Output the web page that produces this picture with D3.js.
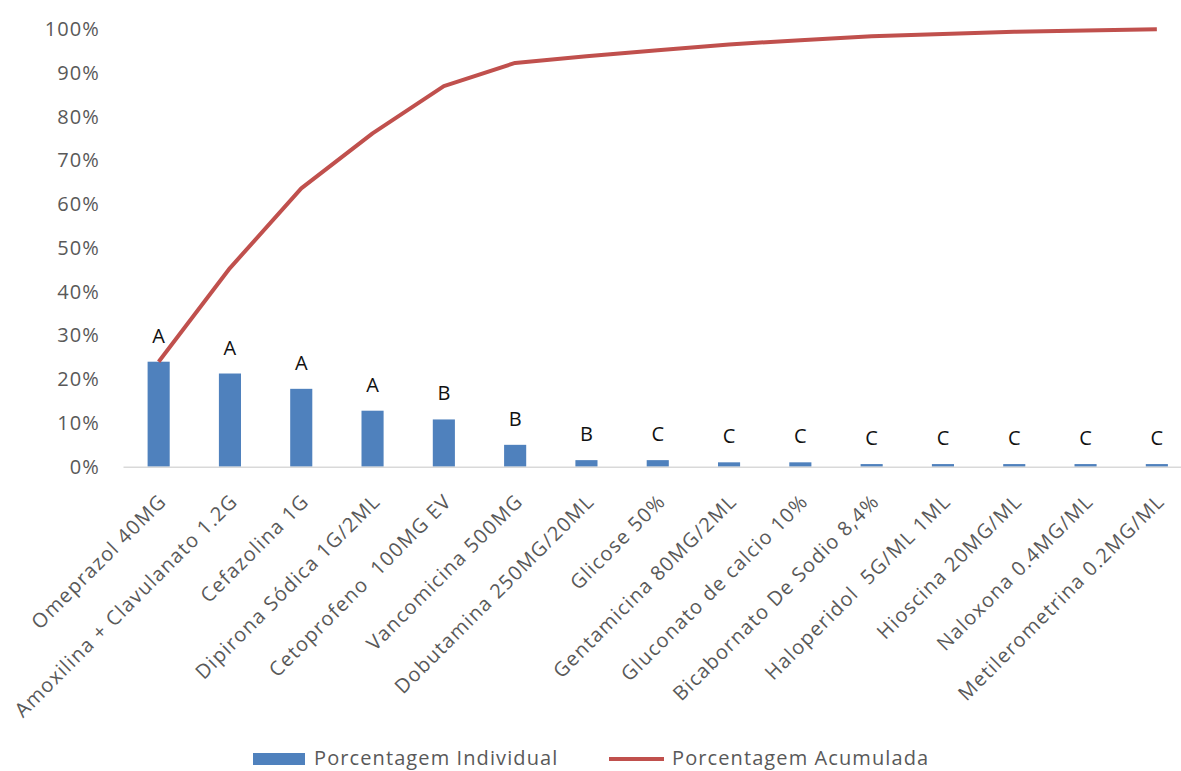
<!DOCTYPE html>
<html>
<head>
<meta charset="utf-8">
<script src="https://cdn.jsdelivr.net/npm/d3@7"></script>
<style>
  html, body { margin: 0; padding: 0; background: #fff; }
  svg { display: block; }
  text { font-family: "Open Sans", "Noto Sans", sans-serif; }
</style>
</head>
<body>
<svg id="chart" width="1181" height="771"></svg>
<script>
const categories = [
  "Omeprazol 40MG",
  "Amoxilina + Clavulanato 1.2G",
  "Cefazolina 1G",
  "Dipirona Sódica 1G/2ML",
  "Cetoprofeno  100MG EV",
  "Vancomicina 500MG",
  "Dobutamina 250MG/20ML",
  "Glicose 50%",
  "Gentamicina 80MG/2ML",
  "Gluconato de calcio 10%",
  "Bicabornato De Sodio 8,4%",
  "Haloperidol  5G/ML 1ML",
  "Hioscina 20MG/ML",
  "Naloxona 0.4MG/ML",
  "Metilerometrina 0.2MG/ML"
];
const individual = [24.0, 21.3, 17.8, 12.8, 10.8, 5.0, 1.5, 1.5, 1.0, 1.0, 0.6, 0.6, 0.6, 0.6, 0.6];
const cumulative = [24.0, 45.4, 63.6, 76.2, 87.0, 92.3, 93.8, 95.2, 96.5, 97.5, 98.4, 98.9, 99.4, 99.7, 100.0];
const classes = ["A", "A", "A", "A", "B", "B", "B", "C", "C", "C", "C", "C", "C", "C", "C"];
const yTicks = [0, 10, 20, 30, 40, 50, 60, 70, 80, 90, 100];
const seriesNames = ["Porcentagem Individual", "Porcentagem Acumulada"];

const svg = d3.select("#chart");
const barColor = "#4f81bd";
const lineColor = "#c0504d";
const textGray = "#595959";

const x = d3.scaleBand().domain(categories).range([123, 1192.5]).paddingInner(0.69).paddingOuter(0.345);
const y = d3.scaleLinear().domain([0, 100]).range([466.7, 29.2]);
const cx = d => x(d) + x.bandwidth() / 2;

// y axis labels
const yAxis = d3.axisLeft(y).tickValues(yTicks).tickFormat(d => d + "%").tickSize(0).tickPadding(0);
const gy = svg.append("g").attr("transform", "translate(100,0)").call(yAxis);
gy.select(".domain").remove();
gy.selectAll("text")
  .attr("fill", textGray)
  .style("font-size", "20px")
  .style("letter-spacing", "1.1px")
  .style("font-family", "'Open Sans', sans-serif");

// bars
svg.append("g").selectAll("rect")
  .data(categories)
  .join("rect")
  .attr("x", d => x(d))
  .attr("width", x.bandwidth())
  .attr("y", (d, i) => y(individual[i]))
  .attr("height", (d, i) => y(0) - y(individual[i]))
  .attr("fill", barColor);

// baseline
const xAxis = d3.axisBottom(x).tickSize(0).tickFormat("");
const gx = svg.append("g").attr("transform", `translate(0,${y(0)})`).call(xAxis);
gx.select(".domain").attr("stroke", "#d9d9d9").attr("stroke-width", 1.5);

// category labels
svg.append("g").selectAll("text")
  .data(categories)
  .join("text")
  .attr("transform", d => `translate(${cx(d) + 4},${y(0) + 31}) rotate(-45)`)
  .attr("text-anchor", "end")
  .attr("dy", "0.35em")
  .attr("fill", textGray)
  .style("font-size", "20px")
  .style("letter-spacing", "1.2px")
  .style("white-space", "pre")
  .text(d => d);

// cumulative line
const line = d3.line().x((d, i) => cx(categories[i])).y(d => y(d));
svg.append("path")
  .datum(cumulative)
  .attr("d", line)
  .attr("fill", "none")
  .attr("stroke", lineColor)
  .attr("stroke-width", 4)
  .attr("stroke-linejoin", "round");

// class labels
svg.append("g").selectAll("text")
  .data(categories)
  .join("text")
  .attr("x", d => cx(d))
  .attr("y", (d, i) => y(individual[i]) - 26)
  .attr("dy", "0.35em")
  .attr("text-anchor", "middle")
  .attr("fill", "#111")
  .style("font-size", "20px")
  .text((d, i) => classes[i]);

// legend
const lg = svg.append("g");
lg.append("rect").attr("x", 253).attr("y", 753).attr("width", 52).attr("height", 12).attr("fill", barColor);
lg.append("text").attr("x", 314).attr("y", 758).attr("dy", "0.35em").attr("fill", textGray)
  .style("font-size", "20px").style("letter-spacing", "1.1px").text(seriesNames[0]);
lg.append("line").attr("x1", 609).attr("x2", 664).attr("y1", 759).attr("y2", 759)
  .attr("stroke", lineColor).attr("stroke-width", 4);
lg.append("text").attr("x", 672).attr("y", 758).attr("dy", "0.35em").attr("fill", textGray)
  .style("font-size", "20px").style("letter-spacing", "1.1px").text(seriesNames[1]);
</script>
</body>
</html>
